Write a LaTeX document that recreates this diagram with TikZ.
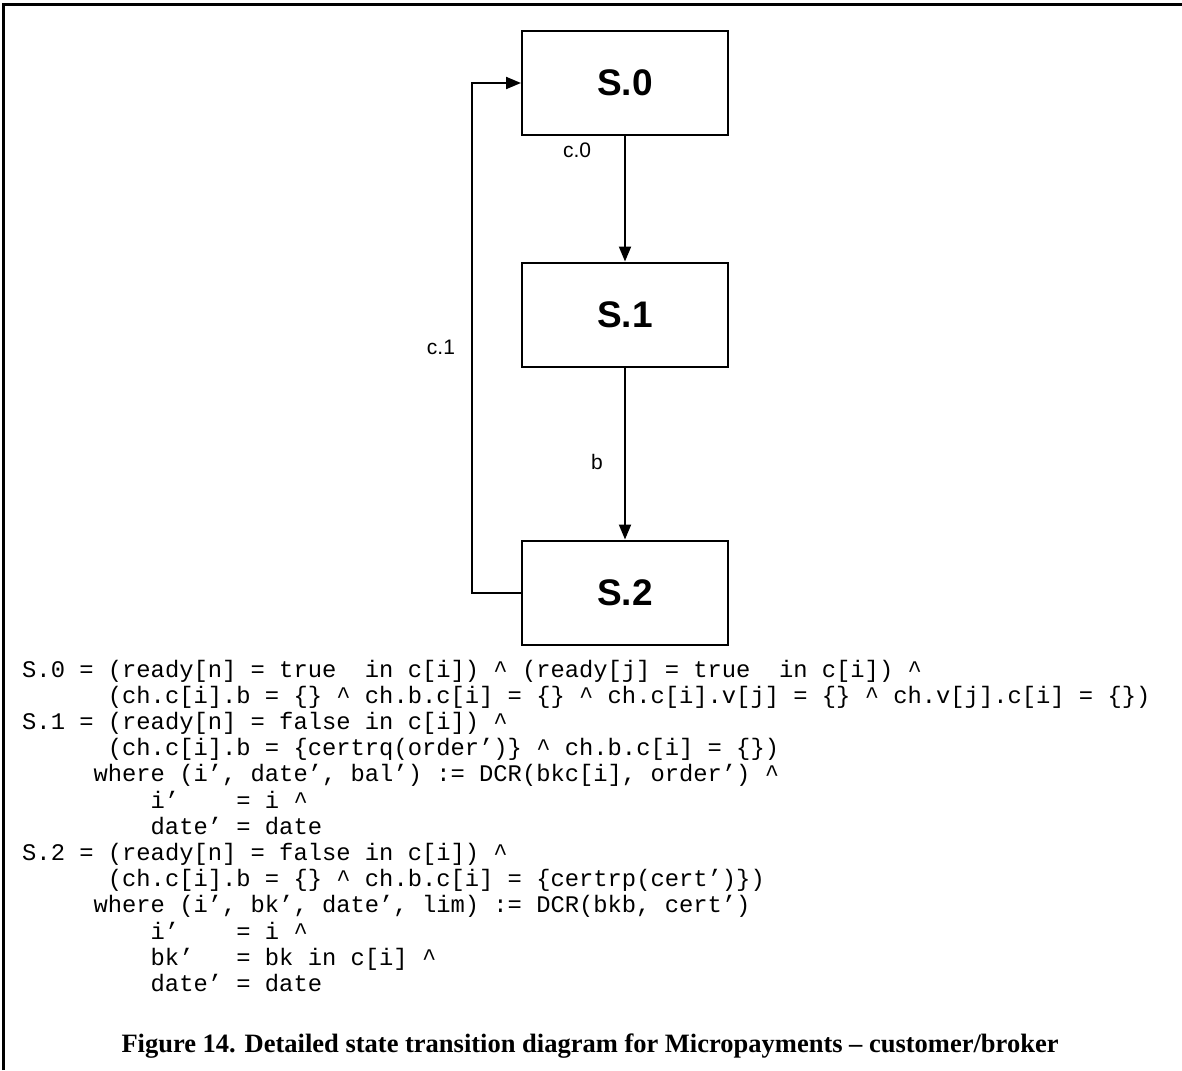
\documentclass[tikz,border=0pt]{standalone}
\usepackage{fontspec}
\setmainfont{Liberation Serif}
\setsansfont{Liberation Sans}
\setmonofont{Liberation Mono}
\usetikzlibrary{arrows.meta}
\newcommand\crt{\textasciicircum}
\begin{document}
\begin{tikzpicture}[x=1pt,y=-1pt,
  state/.style={draw,line width=2pt,minimum width=206pt,minimum height=104pt,
    inner sep=0pt,font=\fontsize{37}{37}\sffamily\bfseries},
  flow/.style={line width=2pt,-{Triangle[length=15pt,width=12pt]}},
  lbl/.style={inner sep=0pt,font=\fontsize{21}{21}\sffamily},
  code/.style={anchor=base west,inner sep=0pt,font=\fontsize{23.8}{26}\ttfamily},
  caption/.style={anchor=base,inner sep=0pt,font=\fontsize{26.5}{30}\rmfamily\bfseries}]
\useasboundingbox (0,0) rectangle (1182,1070);

% open frame: top and left rules
\draw[line width=3pt] (3.5,1070) -- (3.5,5) -- (1182,5);

% states
\node[state] (s0) at (625,83)    {S.0};
\node[state] (s1) at (625,314.5) {S.1};
\node[state] (s2) at (625,592.5) {S.2};

% transitions
\draw[flow] (s0.south) -- (s1.north);
\draw[flow] (s1.south) -- (s2.north);
\coordinate (back) at ([xshift=-49pt]s2.west);
\draw[flow] (s2.west) -- (back) |- (s0.west);

\node[lbl] (c0) at (577,150) {c.0};
\node[lbl] (bb) at (597,462) {b};
\node[lbl] (c1) at (441,347) {c.1};

% state definitions
\def\lh{26.2}
\def\b{677}
\node[code] (l1)  at (22,\b)           {S.0 = (ready[n] = true~~in c[i]) \crt{} (ready[j] = true~~in c[i]) \crt};
\node[code] (l2)  at (107.7,\b+\lh)    {(ch.c[i].b = \{\} \crt{} ch.b.c[i] = \{\} \crt{} ch.c[i].v[j] = \{\} \crt{} ch.v[j].c[i] = \{\})};
\node[code] (l3)  at (22,\b+2*\lh)     {S.1 = (ready[n] = false in c[i]) \crt};
\node[code] (l4)  at (107.7,\b+3*\lh)  {(ch.c[i].b = \{certrq(order’)\} \crt{} ch.b.c[i] = \{\})};
\node[code] (l5)  at (93.4,\b+4*\lh)   {where (i’, date’, bal’) := DCR(bkc[i], order’) \crt};
\node[code] (l6)  at (150.5,\b+5*\lh)  {i’~~~~= i \crt};
\node[code] (l7)  at (150.5,\b+6*\lh)  {date’ = date};
\node[code] (l8)  at (22,\b+7*\lh)     {S.2 = (ready[n] = false in c[i]) \crt};
\node[code] (l9)  at (107.7,\b+8*\lh)  {(ch.c[i].b = \{\} \crt{} ch.b.c[i] = \{certrp(cert’)\})};
\node[code] (l10) at (93.4,\b+9*\lh)   {where (i’, bk’, date’, lim) := DCR(bkb, cert’)};
\node[code] (l11) at (150.5,\b+10*\lh) {i’~~~~= i \crt};
\node[code] (l12) at (150.5,\b+11*\lh) {bk’~~~= bk in c[i] \crt};
\node[code] (l13) at (150.5,\b+12*\lh) {date’ = date};

\node[caption] (cap) at (590,1052) {Figure 14. Detailed state transition diagram for Micropayments – customer/broker};
\end{tikzpicture}
\end{document}
